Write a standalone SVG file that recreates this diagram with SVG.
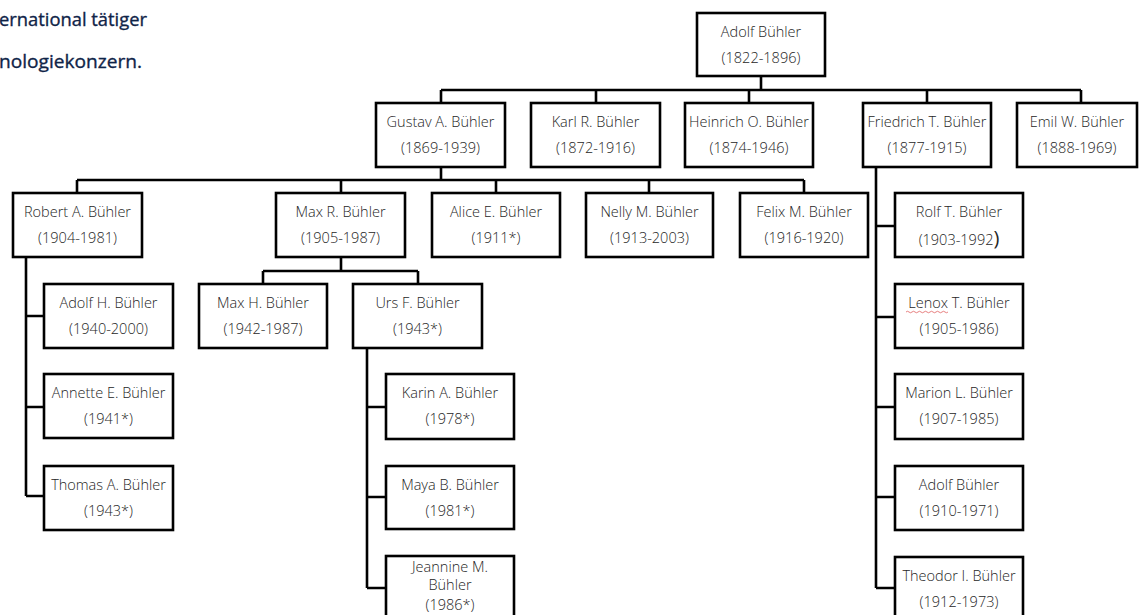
<svg xmlns="http://www.w3.org/2000/svg" width="1139" height="615" viewBox="0 0 1139 615">
<style>
.box{fill:#fff;stroke:#000;stroke-width:2.6}
.t{font-family:"Open Sans","Liberation Sans",sans-serif;font-weight:300;font-size:14.5px;fill:#262626;text-anchor:middle}
.c{fill:none;stroke:#000;stroke-width:2.6}
.h{font-family:"Open Sans","Liberation Sans",sans-serif;font-weight:400;font-size:19px;fill:#0f2448;stroke:#0f2448;stroke-width:0.35}
</style>
<rect width="1139" height="615" fill="#fff"/>
<text class="h" x="-1" y="26" textLength="148" lengthAdjust="spacingAndGlyphs">ernational tätiger</text>
<text class="h" x="-1" y="68" textLength="143" lengthAdjust="spacingAndGlyphs">nologiekonzern.</text>
<g id="connectors">
<path class="c" d="M761,76V90M441,90H1081M441,90V103M596,90V103M749,90V103M927,90V103M1081,90V103"/>
<path class="c" d="M441,167V180M77,180H804M77,180V193M341,180V193M496,180V193M649,180V193M804,180V193"/>
<path class="c" d="M26,257V496M26,316H44M26,407H44M26,496H44"/>
<path class="c" d="M341,257V271M263,271H418M263,271V284M418,271V284"/>
<path class="c" d="M367,348V588M367,407H386M367,497H386M367,588H386"/>
<path class="c" d="M876,167V588M876,226H895M876,317H895M876,407H895M876,497H895M876,588H895"/>
</g>
<g id="adolf"><rect class="box" x="697" y="13" width="128" height="63"/><text class="t" x="761" y="37">Adolf Bühler</text><text class="t" x="761" y="63">(1822-1896)</text></g>
<g id="gustav"><rect class="box" x="376" y="103" width="129" height="64"/><text class="t" x="440.5" y="127">Gustav A. Bühler</text><text class="t" x="440.5" y="153">(1869-1939)</text></g>
<g id="karl"><rect class="box" x="531" y="103" width="129" height="64"/><text class="t" x="595.5" y="127">Karl R. Bühler</text><text class="t" x="595.5" y="153">(1872-1916)</text></g>
<g id="heinrich"><rect class="box" x="685" y="103" width="128" height="64"/><text class="t" x="749" y="127">Heinrich O. Bühler</text><text class="t" x="749" y="153">(1874-1946)</text></g>
<g id="friedrich"><rect class="box" x="863" y="103" width="128" height="64"/><text class="t" x="927" y="127">Friedrich T. Bühler</text><text class="t" x="927" y="153">(1877-1915)</text></g>
<g id="emil"><rect class="box" x="1017" y="103" width="120" height="64"/><text class="t" x="1077" y="127">Emil W. Bühler</text><text class="t" x="1077" y="153">(1888-1969)</text></g>
<g id="robert"><rect class="box" x="13" y="193" width="129" height="64"/><text class="t" x="77.5" y="217">Robert A. Bühler</text><text class="t" x="77.5" y="243">(1904-1981)</text></g>
<g id="maxr"><rect class="box" x="276" y="193" width="129" height="64"/><text class="t" x="340.5" y="217">Max R. Bühler</text><text class="t" x="340.5" y="243">(1905-1987)</text></g>
<g id="alice"><rect class="box" x="432" y="193" width="128" height="64"/><text class="t" x="496" y="217">Alice E. Bühler</text><text class="t" x="496" y="243">(1911*)</text></g>
<g id="nelly"><rect class="box" x="586" y="193" width="127" height="64"/><text class="t" x="649.5" y="217">Nelly M. Bühler</text><text class="t" x="649.5" y="243">(1913-2003)</text></g>
<g id="felix"><rect class="box" x="740" y="193" width="128" height="64"/><text class="t" x="804" y="217">Felix M. Bühler</text><text class="t" x="804" y="243">(1916-1920)</text></g>
<g id="rolf"><rect class="box" x="895" y="193" width="128" height="64"/><text class="t" x="959" y="217">Rolf T. Bühler</text><text class="t" x="959" y="245">(1903-1992<tspan font-size="20" font-weight="400">)</tspan></text></g>
<g id="adolfh"><rect class="box" x="44" y="284" width="129" height="64"/><text class="t" x="108.5" y="308">Adolf H. Bühler</text><text class="t" x="108.5" y="334">(1940-2000)</text></g>
<g id="maxh"><rect class="box" x="199" y="284" width="128" height="64"/><text class="t" x="263" y="308">Max H. Bühler</text><text class="t" x="263" y="334">(1942-1987)</text></g>
<g id="urs"><rect class="box" x="353" y="284" width="129" height="64"/><text class="t" x="417.5" y="308">Urs F. Bühler</text><text class="t" x="417.5" y="334">(1943*)</text></g>
<g id="lenox"><rect class="box" x="895" y="284" width="128" height="64"/><text class="t" x="959" y="308">Lenox T. Bühler</text><path d="M906,312q1.5,-1.5 3,0t3,0t3,0t3,0t3,0t3,0t3,0t3,0t3,0t3,0t3,0t3,0t3,0t3,0" fill="none" stroke="#e06060" stroke-width="0.8"/><text class="t" x="959" y="334">(1905-1986)</text></g>
<g id="annette"><rect class="box" x="44" y="374" width="129" height="64"/><text class="t" x="108.5" y="398">Annette E. Bühler</text><text class="t" x="108.5" y="424">(1941*)</text></g>
<g id="karin"><rect class="box" x="386" y="374" width="128" height="65"/><text class="t" x="450" y="398">Karin A. Bühler</text><text class="t" x="450" y="424">(1978*)</text></g>
<g id="marion"><rect class="box" x="895" y="374" width="128" height="65"/><text class="t" x="959" y="398">Marion L. Bühler</text><text class="t" x="959" y="424">(1907-1985)</text></g>
<g id="thomas"><rect class="box" x="44" y="466" width="129" height="64"/><text class="t" x="108.5" y="490">Thomas A. Bühler</text><text class="t" x="108.5" y="516">(1943*)</text></g>
<g id="maya"><rect class="box" x="386" y="466" width="128" height="63"/><text class="t" x="450" y="490">Maya B. Bühler</text><text class="t" x="450" y="516">(1981*)</text></g>
<g id="adolf2"><rect class="box" x="895" y="466" width="128" height="64"/><text class="t" x="959" y="490">Adolf Bühler</text><text class="t" x="959" y="516">(1910-1971)</text></g>
<g id="jeannine"><rect class="box" x="386" y="556" width="128" height="70"/><text class="t" x="450" y="572">Jeannine M.</text><text class="t" x="450" y="590">Bühler</text><text class="t" x="450" y="610">(1986*)</text></g>
<g id="theodor"><rect class="box" x="895" y="557" width="128" height="64"/><text class="t" x="959" y="581">Theodor I. Bühler</text><text class="t" x="959" y="607">(1912-1973)</text></g>
</svg>
